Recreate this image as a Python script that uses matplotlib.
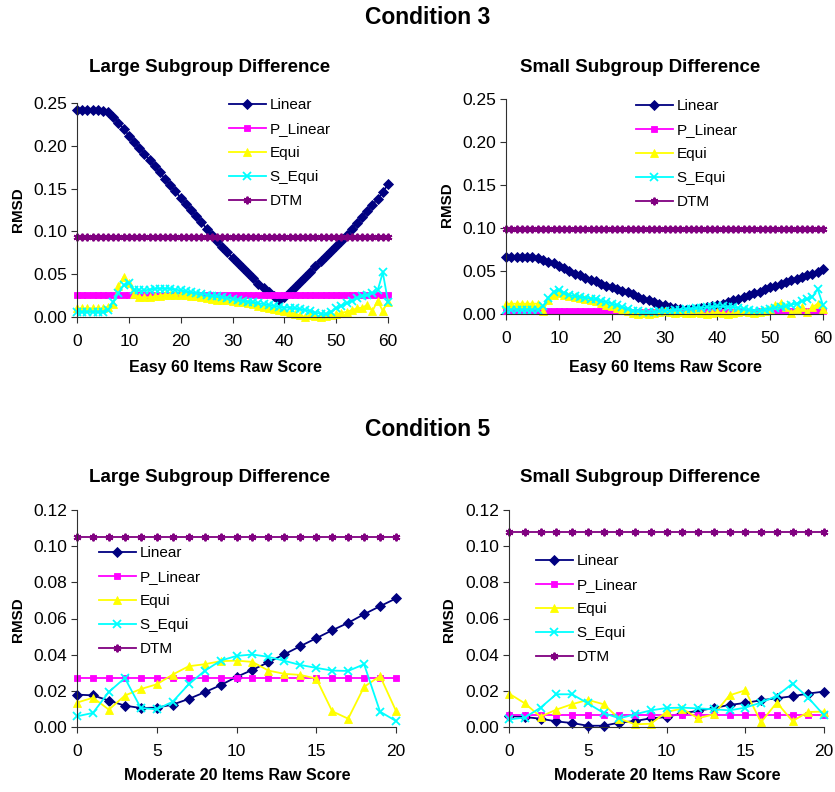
import matplotlib
matplotlib.use("Agg")
import matplotlib.pyplot as plt
from matplotlib.ticker import FormatStrFormatter

plt.rcParams["font.family"] = ["Liberation Sans", "DejaVu Sans"]

# ---- data ----
x60 = list(range(61))
x20 = list(range(21))
series_names = ["Linear", "P_Linear", "Equi", "S_Equi", "DTM"]

# Condition 3, large subgroup difference (Easy 60 items)
c3_large_linear = [0.242, 0.242, 0.242, 0.242, 0.242, 0.241, 0.239, 0.234, 0.227, 0.220,
                   0.212, 0.205, 0.198, 0.191, 0.183, 0.176, 0.169, 0.161, 0.154, 0.147,
                   0.139, 0.132, 0.125, 0.118, 0.111, 0.103, 0.096, 0.089, 0.082, 0.076,
                   0.069, 0.063, 0.057, 0.051, 0.045, 0.039, 0.034, 0.029, 0.024, 0.020,
                   0.023, 0.029, 0.035, 0.041, 0.047, 0.053, 0.059, 0.065, 0.071, 0.077,
                   0.083, 0.089, 0.096, 0.103, 0.110, 0.117, 0.124, 0.131, 0.138, 0.146,
                   0.155]
c3_large_plinear = [0.026, 0.026, 0.026, 0.026, 0.026, 0.026, 0.026, 0.026, 0.026, 0.026,
                    0.026, 0.026, 0.026, 0.026, 0.026, 0.026, 0.026, 0.026, 0.026, 0.026,
                    0.026, 0.026, 0.026, 0.026, 0.026, 0.026, 0.026, 0.026, 0.026, 0.026,
                    0.026, 0.026, 0.026, 0.026, 0.026, 0.026, 0.026, 0.026, 0.026, 0.026,
                    0.026, 0.026, 0.026, 0.026, 0.026, 0.026, 0.026, 0.026, 0.026, 0.026,
                    0.026, 0.026, 0.026, 0.026, 0.026, 0.026, 0.026, 0.026, 0.026, 0.026,
                    0.026]
c3_large_equi = [0.010, 0.010, 0.010, 0.010, 0.010, 0.010, 0.012, 0.015, 0.036, 0.047,
                 0.040, 0.027, 0.023, 0.023, 0.023, 0.024, 0.025, 0.026, 0.026, 0.026,
                 0.026, 0.026, 0.025, 0.024, 0.023, 0.022, 0.021, 0.020, 0.020, 0.020,
                 0.019, 0.018, 0.017, 0.016, 0.015, 0.013, 0.012, 0.010, 0.009, 0.008,
                 0.007, 0.005, 0.004, 0.002, 0.000, 0.002, 0.001, 0.000, 0.001, 0.002,
                 0.003, 0.005, 0.006, 0.008, 0.010, 0.011, 0.014, 0.007, 0.019, 0.007,
                 0.018]
c3_large_sequi = [0.006, 0.006, 0.006, 0.006, 0.006, 0.006, 0.008, 0.018, 0.028, 0.037,
                  0.040, 0.032, 0.031, 0.031, 0.032, 0.033, 0.033, 0.033, 0.033, 0.032,
                  0.031, 0.030, 0.029, 0.028, 0.027, 0.026, 0.025, 0.024, 0.023, 0.022,
                  0.021, 0.020, 0.019, 0.018, 0.017, 0.016, 0.015, 0.014, 0.013, 0.012,
                  0.011, 0.011, 0.010, 0.009, 0.008, 0.007, 0.005, 0.004, 0.003, 0.006,
                  0.010, 0.013, 0.016, 0.019, 0.022, 0.024, 0.026, 0.028, 0.031, 0.052,
                  0.018]
c3_large_dtm = [0.094, 0.094, 0.094, 0.094, 0.094, 0.094, 0.094, 0.094, 0.094, 0.094,
                0.094, 0.094, 0.094, 0.094, 0.094, 0.094, 0.094, 0.094, 0.094, 0.094,
                0.094, 0.094, 0.094, 0.094, 0.094, 0.094, 0.094, 0.094, 0.094, 0.094,
                0.094, 0.094, 0.094, 0.094, 0.094, 0.094, 0.094, 0.094, 0.094, 0.094,
                0.094, 0.094, 0.094, 0.094, 0.094, 0.094, 0.094, 0.094, 0.094, 0.094,
                0.094, 0.094, 0.094, 0.094, 0.094, 0.094, 0.094, 0.094, 0.094, 0.094,
                0.094]

# Condition 3, small subgroup difference (Easy 60 items)
c3_small_linear = [0.066, 0.066, 0.066, 0.066, 0.066, 0.066, 0.065, 0.063, 0.061, 0.059,
                   0.056, 0.053, 0.050, 0.047, 0.045, 0.042, 0.040, 0.038, 0.035, 0.033,
                   0.031, 0.029, 0.027, 0.025, 0.023, 0.020, 0.018, 0.016, 0.014, 0.012,
                   0.010, 0.008, 0.007, 0.006, 0.005, 0.005, 0.006, 0.007, 0.008, 0.009,
                   0.010, 0.012, 0.014, 0.016, 0.018, 0.020, 0.022, 0.024, 0.026, 0.029,
                   0.031, 0.033, 0.035, 0.037, 0.039, 0.041, 0.043, 0.045, 0.047, 0.049,
                   0.052]
c3_small_plinear = [0.003, 0.003, 0.003, 0.003, 0.003, 0.003, 0.003, 0.004, 0.004, 0.004,
                    0.004, 0.004, 0.004, 0.004, 0.004, 0.004, 0.004, 0.004, 0.004, 0.004,
                    0.004, 0.004, 0.003, 0.002, 0.002, 0.002, 0.002, 0.002, 0.002, 0.002,
                    0.002, 0.002, 0.002, 0.002, 0.002, 0.002, 0.002, 0.002, 0.002, 0.002,
                    0.002, 0.002, 0.002, 0.002, 0.002, 0.002, 0.002, 0.002, 0.003, 0.003,
                    0.003, 0.003, 0.003, 0.003, 0.003, 0.003, 0.003, 0.003, 0.003, 0.003,
                    0.003]
c3_small_equi = [0.012, 0.012, 0.012, 0.012, 0.012, 0.012, 0.012, 0.004, 0.016, 0.022,
                 0.024, 0.022, 0.021, 0.020, 0.019, 0.018, 0.016, 0.015, 0.013, 0.011,
                 0.009, 0.007, 0.005, 0.003, 0.001, 0.000, 0.001, 0.000, 0.001, 0.002,
                 0.003, 0.002, 0.001, 0.002, 0.001, 0.001, 0.002, 0.001, 0.000, 0.001,
                 0.002, 0.001, 0.000, 0.001, 0.002, 0.003, 0.002, 0.001, 0.002, 0.003,
                 0.006, 0.010, 0.013, 0.008, 0.001, 0.006, 0.008, 0.002, 0.008, 0.012,
                 0.006]
c3_small_sequi = [0.005, 0.005, 0.005, 0.005, 0.005, 0.005, 0.005, 0.009, 0.019, 0.026,
                  0.028, 0.024, 0.022, 0.021, 0.020, 0.019, 0.018, 0.017, 0.015, 0.014,
                  0.012, 0.010, 0.008, 0.006, 0.004, 0.003, 0.002, 0.002, 0.002, 0.003,
                  0.004, 0.004, 0.005, 0.005, 0.006, 0.006, 0.007, 0.007, 0.008, 0.008,
                  0.009, 0.009, 0.008, 0.008, 0.007, 0.006, 0.005, 0.004, 0.004, 0.005,
                  0.006, 0.007, 0.008, 0.009, 0.011, 0.012, 0.015, 0.017, 0.020, 0.029,
                  0.010]
c3_small_dtm = [0.099, 0.099, 0.099, 0.099, 0.099, 0.099, 0.099, 0.099, 0.099, 0.099,
                0.099, 0.099, 0.099, 0.099, 0.099, 0.099, 0.099, 0.099, 0.099, 0.099,
                0.099, 0.099, 0.099, 0.099, 0.099, 0.099, 0.099, 0.099, 0.099, 0.099,
                0.099, 0.099, 0.099, 0.099, 0.099, 0.099, 0.099, 0.099, 0.099, 0.099,
                0.099, 0.099, 0.099, 0.099, 0.099, 0.099, 0.099, 0.099, 0.099, 0.099,
                0.099, 0.099, 0.099, 0.099, 0.099, 0.099, 0.099, 0.099, 0.099, 0.099,
                0.099]

# Condition 5, large subgroup difference (Moderate 20 items)
c5_large_linear = [0.0179, 0.0175, 0.0146, 0.0118, 0.0105, 0.0107, 0.0124, 0.0155, 0.0192, 0.0231,
                   0.0277, 0.0316, 0.0358, 0.0402, 0.0447, 0.0491, 0.0535, 0.0576, 0.0624, 0.0668,
                   0.0711]
c5_large_plinear = [0.027, 0.027, 0.027, 0.027, 0.027, 0.027, 0.027, 0.027, 0.027, 0.027,
                    0.027, 0.027, 0.027, 0.027, 0.027, 0.027, 0.027, 0.027, 0.027, 0.027,
                    0.027]
c5_large_equi = [0.0135, 0.0162, 0.0096, 0.0174, 0.0210, 0.0236, 0.0290, 0.0336, 0.0347, 0.0364,
                 0.0367, 0.0360, 0.0312, 0.0294, 0.0288, 0.0268, 0.0087, 0.0046, 0.0222, 0.0282,
                 0.0089]
c5_large_sequi = [0.0059, 0.0078, 0.0194, 0.0271, 0.0105, 0.0098, 0.0140, 0.0236, 0.0310, 0.0367,
                  0.0393, 0.0401, 0.0388, 0.0366, 0.0343, 0.0327, 0.0312, 0.0310, 0.0347, 0.0085,
                  0.0033]
c5_large_dtm = [0.105, 0.105, 0.105, 0.105, 0.105, 0.105, 0.105, 0.105, 0.105, 0.105,
                0.105, 0.105, 0.105, 0.105, 0.105, 0.105, 0.105, 0.105, 0.105, 0.105,
                0.105]

# Condition 5, small subgroup difference (Moderate 20 items)
c5_small_linear = [0.0061, 0.0055, 0.0046, 0.0031, 0.0022, 0.0007, 0.0007, 0.0024, 0.0033, 0.0048,
                   0.0055, 0.0076, 0.0089, 0.0105, 0.0122, 0.0133, 0.0148, 0.0159, 0.0170, 0.0185,
                   0.0196]
c5_small_plinear = [0.0065, 0.0065, 0.0065, 0.0065, 0.0065, 0.0065, 0.0065, 0.0065, 0.0065, 0.0065,
                    0.0065, 0.0065, 0.0065, 0.0065, 0.0065, 0.0065, 0.0065, 0.0065, 0.0065, 0.0065,
                    0.0065]
c5_small_equi = [0.0185, 0.0131, 0.0057, 0.0096, 0.0126, 0.0150, 0.0126, 0.0046, 0.0015, 0.0018,
                 0.0083, 0.0102, 0.0048, 0.0070, 0.0175, 0.0203, 0.0026, 0.0135, 0.0033, 0.0083,
                 0.0085]
c5_small_sequi = [0.0042, 0.0052, 0.0107, 0.0181, 0.0181, 0.0131, 0.0078, 0.0048, 0.0070, 0.0092,
                  0.0105, 0.0107, 0.0103, 0.0098, 0.0092, 0.0107, 0.0135, 0.0172, 0.0240, 0.0162,
                  0.0065]
c5_small_dtm = [0.108, 0.108, 0.108, 0.108, 0.108, 0.108, 0.108, 0.108, 0.108, 0.108,
                0.108, 0.108, 0.108, 0.108, 0.108, 0.108, 0.108, 0.108, 0.108, 0.108,
                0.108]

# ---- styling ----
STYLE = {
    "Linear":   dict(color="#000080", marker="D", ms=4.6, mew=0.6),
    "P_Linear": dict(color="#FF00FF", marker="s", ms=5.0, mew=0.6),
    "Equi":     dict(color="#FFFF00", marker="^", ms=5.5, mew=0.6),
    "S_Equi":   dict(color="#00FFFF", marker="x", ms=5.2, mew=1.3),
    "DTM":      dict(color="#800080", marker=(6, 2, 0), ms=5.5, mew=1.4),
}

W, H = 835, 792
fig = plt.figure(figsize=(W / 100, H / 100), dpi=100)


def rect(l, r, t, b):
    return [l / W, 1 - b / H, (r - l) / W, (b - t) / H]


def panel(r, xs, data, xmax, xstep, ymax, ystep, leg_xy):
    ax = fig.add_axes(rect(*r))
    lines = []
    for name, ys in zip(series_names, data):
        s = STYLE[name]
        ln, = ax.plot(xs, ys, color=s["color"], lw=1.3, marker=s["marker"],
                      ms=s["ms"], mfc=s["color"], mec=s["color"], mew=s["mew"],
                      clip_on=False)
        lines.append(ln)
    ax.set_xlim(0, xmax)
    ax.set_ylim(0, ymax)
    ax.set_xticks(range(0, xmax + 1, xstep))
    n = int(round(ymax / ystep))
    ax.set_yticks([i * ystep for i in range(n + 1)])
    ax.yaxis.set_major_formatter(FormatStrFormatter("%.2f"))
    for side in ("top", "right"):
        ax.spines[side].set_visible(False)
    for side in ("left", "bottom"):
        ax.spines[side].set_color("#303030")
        ax.spines[side].set_linewidth(0.8)
    ax.tick_params(direction="out", length=4, width=0.8, color="#303030",
                   labelsize=12.5)
    ax.tick_params(axis="y", pad=3)
    ax.tick_params(axis="x", pad=8)
    ax.patch.set_alpha(0)
    ax.legend(lines, series_names, loc="upper left",
              bbox_to_anchor=(leg_xy[0] / W, 1 - leg_xy[1] / H),
              bbox_transform=fig.transFigure, frameon=False, fontsize=11,
              handlelength=2.4, handletextpad=0.25, labelspacing=0.66,
              borderpad=0, borderaxespad=0, numpoints=1)
    return ax


panel((77, 388, 103, 317), x60,
      [c3_large_linear, c3_large_plinear, c3_large_equi, c3_large_sequi, c3_large_dtm],
      60, 10, 0.25, 0.05, (229, 98))
panel((506, 823, 99, 314), x60,
      [c3_small_linear, c3_small_plinear, c3_small_equi, c3_small_sequi, c3_small_dtm],
      60, 10, 0.25, 0.05, (636, 99))
panel((77, 396, 510, 727), x20,
      [c5_large_linear, c5_large_plinear, c5_large_equi, c5_large_sequi, c5_large_dtm],
      20, 5, 0.12, 0.02, (99, 546))
panel((509, 824, 510, 727), x20,
      [c5_small_linear, c5_small_plinear, c5_small_equi, c5_small_sequi, c5_small_dtm],
      20, 5, 0.12, 0.02, (536, 554))

# ---- texts ----
def ftext(x, y, s, size, **kw):
    fig.text(x / W, 1 - y / H, s, ha="center", va="center", fontsize=size,
             fontweight="bold", **kw)

ftext(428, 18, "Condition 3", 16.5)
ftext(428, 430, "Condition 5", 16.5)
ftext(210, 68, "Large Subgroup Difference", 13.5)
ftext(640, 68, "Small Subgroup Difference", 13.5)
ftext(210, 478, "Large Subgroup Difference", 13.5)
ftext(640, 478, "Small Subgroup Difference", 13.5)
ftext(225, 367, "Easy 60 Items Raw Score", 11.5)
ftext(665, 367, "Easy 60 Items Raw Score", 11.5)
ftext(237, 775, "Moderate 20 Items Raw Score", 11.5)
ftext(667, 775, "Moderate 20 Items Raw Score", 11.5)
ftext(18, 210, "RMSD", 11, rotation=90)
ftext(447, 205, "RMSD", 11, rotation=90)
ftext(18, 620, "RMSD", 11, rotation=90)
ftext(449, 620, "RMSD", 11, rotation=90)

fig.savefig("out.png", dpi=100, facecolor="white")
